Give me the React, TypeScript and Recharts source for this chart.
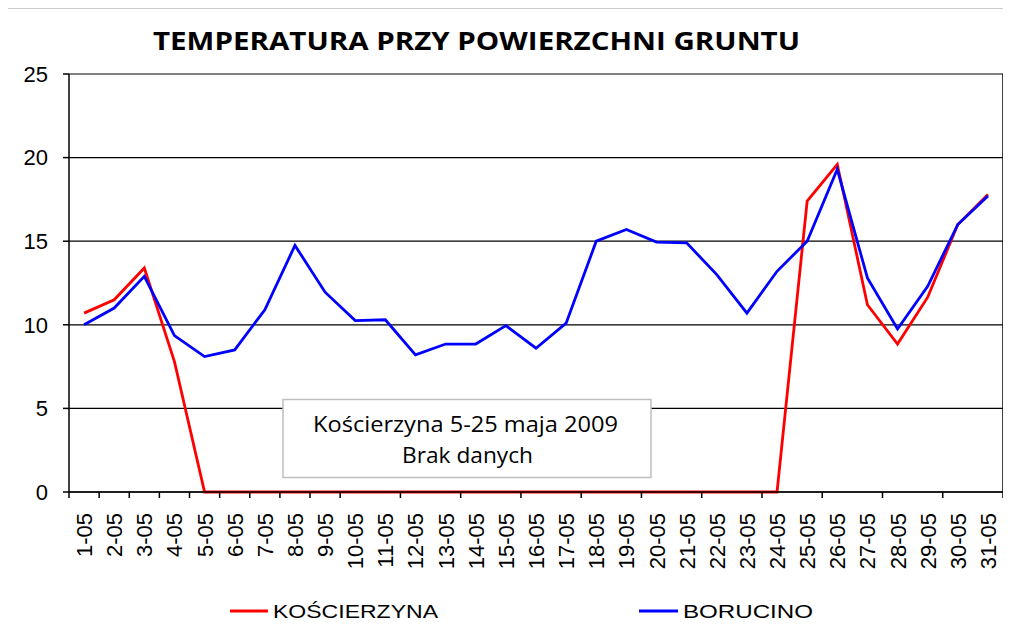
import React from "react";
import { LineChart, Line, XAxis, YAxis, CartesianGrid, ReferenceLine } from "recharts";

const dates = [
  "1-05", "2-05", "3-05", "4-05", "5-05", "6-05", "7-05", "8-05", "9-05", "10-05",
  "11-05", "12-05", "13-05", "14-05", "15-05", "16-05", "17-05", "18-05", "19-05", "20-05",
  "21-05", "22-05", "23-05", "24-05", "25-05", "26-05", "27-05", "28-05", "29-05", "30-05", "31-05",
];

// Kościerzyna – brak danych 5-24 maja (wykres pokazuje 0)
const koscierzyna = [
  10.7, 11.5, 13.4, 7.8, 0, 0, 0, 0, 0, 0,
  0, 0, 0, 0, 0, 0, 0, 0, 0, 0,
  0, 0, 0, 0, 17.4, 19.6, 11.2, 8.85, 11.65, 16.0, 17.8,
];

const borucino = [
  10.0, 11.0, 12.9, 9.35, 8.1, 8.5, 10.9, 14.75, 11.95, 10.25,
  10.3, 8.2, 8.85, 8.85, 9.95, 8.6, 10.1, 15.0, 15.7, 14.95,
  14.9, 13.0, 10.7, 13.2, 15.0, 19.3, 12.8, 9.75, 12.3, 16.0, 17.7,
];

const yTicks = [0, 5, 10, 15, 20, 25];

const data = dates.map((date, i) => ({ day: i + 1, date, k: koscierzyna[i], b: borucino[i] }));
const labelTicks = dates.map((_, i) => i + 1);
const markTicks = [0, ...dates.map((_, i) => i + 1)].map((v) => v + 0.5);

const FONT = "'Liberation Sans', Arial, sans-serif";

// a1 = kreski podziałki na granicach dni, a2 = opisy dat
const DateTick = (props: any) => {
  const { x, y, payload } = props;
  const label = dates[payload.value - 1] || "";
  return (
    <g transform={`translate(${x + 8},${y + 13}) rotate(-90)`}>
      <text x={0} y={0} textAnchor="end" fontSize={22} fontFamily={FONT} fill="#000">
        {label}
      </text>
    </g>
  );
};

const App = () => {
  return (
    <div style={{ position: "relative", width: 1011, height: 626, margin: -8, background: "#fff", overflow: "hidden" }}>
      <LineChart width={1011} height={626} data={data} margin={{ top: 74, right: 8, bottom: 46, left: 0 }}>
        <CartesianGrid xAxisId="a2" vertical={false} stroke="#000" strokeWidth={1.2} />
        <XAxis
          xAxisId="a1"
          dataKey="day"
          type="number"
          domain={[0.5, 31.5]}
          allowDataOverflow
          ticks={markTicks}
          tick={() => <g />}
          tickSize={6}
          height={8}
          stroke="#000"
          strokeWidth={1.5}
        />
        <XAxis
          xAxisId="a2"
          dataKey="day"
          type="number"
          domain={[0.5, 31.5]}
          allowDataOverflow
          ticks={labelTicks}
          interval={0}
          axisLine={false}
          tickLine={false}
          tickSize={0}
          tickMargin={0}
          height={80}
          tick={<DateTick />}
        />
        <YAxis
          domain={[0, 25]}
          ticks={yTicks}
          width={69}
          tickSize={6}
          tickMargin={15}
          stroke="#000"
          strokeWidth={1.5}
          tick={{ fill: "#000", fontSize: 22, fontFamily: FONT }}
        />
        <ReferenceLine xAxisId="a2" x={31.5} stroke="#000" strokeWidth={1.5} />
        <Line xAxisId="a2" type="linear" dataKey="k" stroke="#ff0000" strokeWidth={2.8} dot={false} isAnimationActive={false} />
        <Line xAxisId="a2" type="linear" dataKey="b" stroke="#0000ff" strokeWidth={2.8} dot={false} isAnimationActive={false} />
      </LineChart>
      <svg width={1011} height={626} style={{ position: "absolute", left: 0, top: 0, pointerEvents: "none" }}>
        <line x1={3.5} y1={7.5} x2={1011} y2={7.5} stroke="#333" strokeWidth={1.5} />
        <line x1={3.5} y1={7.5} x2={3.5} y2={626} stroke="#333" strokeWidth={1.5} />
        <text x={153} y={50} fontFamily="'Open Sans', sans-serif" fontWeight="bold" fontSize={25} fill="#000"
          textLength={647} lengthAdjust="spacingAndGlyphs">
          TEMPERATURA  PRZY POWIERZCHNI GRUNTU
        </text>
        <rect x={283} y={399.5} width={368} height={78} fill="#fff" stroke="#bfbfbf" strokeWidth={1.5} />
        <text x={313} y={432} fontFamily="'Open Sans', sans-serif" fontSize={21} fill="#000"
          textLength={305} lengthAdjust="spacingAndGlyphs">
          Kościerzyna 5-25 maja 2009
        </text>
        <text x={402} y={463} fontFamily="'Open Sans', sans-serif" fontSize={21} fill="#000"
          textLength={131} lengthAdjust="spacingAndGlyphs">
          Brak danych
        </text>
        <line x1={230} y1={611} x2={268} y2={611} stroke="#ff0000" strokeWidth={3} />
        <text x={273} y={618} fontFamily={FONT} fontSize={18} fill="#000" textLength={165} lengthAdjust="spacingAndGlyphs">
          KOŚCIERZYNA
        </text>
        <line x1={639} y1={611} x2={678} y2={611} stroke="#0000ff" strokeWidth={3} />
        <text x={683} y={618} fontFamily={FONT} fontSize={18} fill="#000" textLength={130} lengthAdjust="spacingAndGlyphs">
          BORUCINO
        </text>
      </svg>
    </div>
  );
};

export default App;
